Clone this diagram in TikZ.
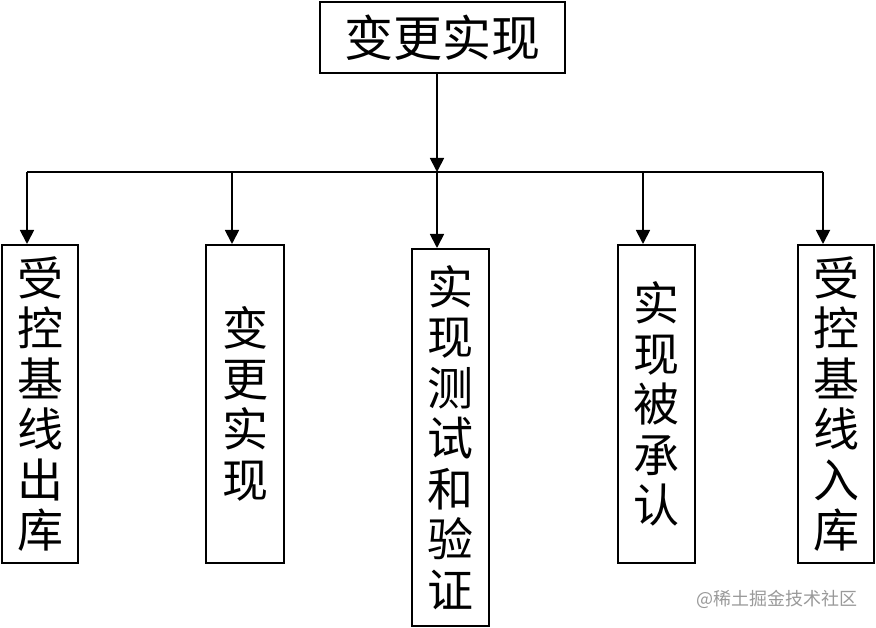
\documentclass[tikz,border=0pt]{standalone}
\usepackage{fontspec}
\newfontfamily\cjk{Noto Sans CJK SC}
\usetikzlibrary{arrows.meta}

\begin{document}
\begin{tikzpicture}[x=1pt, y=-1pt,
    box/.style={draw, line width=2pt, inner sep=0pt, align=center,
      font=\cjk\fontsize{46}{50.5}\selectfont},
    tree/.style={line width=1.8pt, -{Triangle[length=14pt, width=14pt]}}]
  \useasboundingbox (0, 0) rectangle (876, 628);

  \node[box, minimum width=245, minimum height=71, font=\cjk\fontsize{49}{52}\selectfont] (top) at (442.5, 37.5) {变更实现};

  \node[box, minimum width=76, minimum height=318] (out) at (40, 404) {受\\控\\基\\线\\出\\库};
  \node[box, minimum width=78, minimum height=318] (impl) at (245, 404) {变\\更\\实\\现};
  \node[box, minimum width=77, minimum height=377] (test) at (450.5, 437.5) {实\\现\\测\\试\\和\\验\\证};
  \node[box, minimum width=77, minimum height=318] (ack) at (656.5, 404) {实\\现\\被\\承\\认};
  \node[box, minimum width=76, minimum height=318] (in) at (836, 404) {受\\控\\基\\线\\入\\库};

  \coordinate (hub) at (437, 172);
  \coordinate (c1) at (27, 172);
  \coordinate (c2) at (232, 172);
  \coordinate (c4) at (643, 172);
  \coordinate (c5) at (823, 172);

  \draw[tree] (top.south -| hub) -- (hub);
  \draw[line width=2.2pt] (c1) -- (c5);
  \draw[tree] (c1) -- (out.north -| c1);
  \draw[tree] (c2) -- (impl.north -| c2);
  \draw[tree] (hub) -- (test.north -| hub);
  \draw[tree] (c4) -- (ack.north -| c4);
  \draw[tree] (c5) -- (in.north -| c5);

  \node[text=black!40, font=\cjk\fontsize{18}{20}\selectfont] (mark) at (777, 599) {@稀土掘金技术社区};
\end{tikzpicture}
\end{document}
